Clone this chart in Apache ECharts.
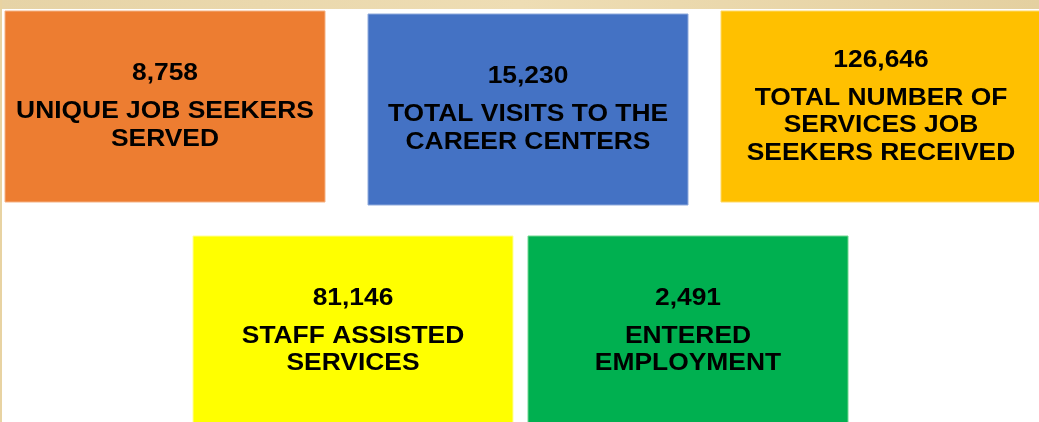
<!DOCTYPE html>
<html>
<head>
<meta charset="utf-8">
<script src="https://cdn.jsdelivr.net/npm/echarts@6/dist/echarts.min.js"></script>
<style>
  html, body { margin: 0; padding: 0; background: #fff; }
  #chart { width: 1039px; height: 422px; }
</style>
</head>
<body>
<div id="chart"></div>
<script>
// data
const values = [8758, 15230, 126646, 81146, 2491];
const labels = [
  ['UNIQUE JOB SEEKERS', 'SERVED'],
  ['TOTAL VISITS TO THE', 'CAREER CENTERS'],
  ['TOTAL NUMBER OF', 'SERVICES JOB', 'SEEKERS RECEIVED'],
  ['STAFF ASSISTED', 'SERVICES'],
  ['ENTERED', 'EMPLOYMENT']
];

// layout / style
const boxes = [
  [5, 11, 320, 191],
  [368, 14, 320, 191],
  [721, 11, 320, 191],
  [193, 236, 320, 190],
  [528, 236, 320, 190]
];
const fills = ['#ED7D31', '#4472C4', '#FFC000', '#FFFF00', '#00B050'];
const edges = ['#F4B183', '#8FAADC', '#FFD966', '#FFFF99', '#70D890'];
const font = '"Liberation Sans", Arial, sans-serif';
const lineH = 27.5;
const stretch = 1.1; // text in the original is a bit wider than Arial

const chart = echarts.init(document.getElementById('chart'));

const elements = [
  // parchment strip along top and left edge
  { type: 'rect', shape: { x: 0, y: 0, width: 1039, height: 9 },
    style: { fill: new echarts.graphic.LinearGradient(0, 0, 1, 0, [
      { offset: 0, color: '#E6D3A6' }, { offset: 0.5, color: '#EEDDB4' }, { offset: 1, color: '#E4D0A0' }
    ]) } },
  { type: 'rect', shape: { x: 0, y: 0, width: 2, height: 422 }, style: { fill: '#E8D3A2' } }
];

values.forEach((v, i) => {
  const [x, y, w, h] = boxes[i];
  const n = labels[i].length;
  const cx = x + w / 2;
  const cy = y + h / 2;
  const numY = cy - 19 - (n - 1) * lineH / 2;
  const labY = numY + 38 + (n - 1) * lineH / 2;
  elements.push({
    type: 'rect',
    shape: { x: x, y: y, width: w, height: h },
    style: { fill: fills[i], stroke: edges[i], lineWidth: 1 }
  });
  elements.push({
    type: 'text', x: cx, y: numY, scaleX: stretch,
    style: {
      text: v.toLocaleString('en-US'), fill: '#000',
      font: 'bold 24px ' + font, align: 'center', verticalAlign: 'middle'
    }
  });
  elements.push({
    type: 'text', x: cx, y: labY, scaleX: stretch,
    style: {
      text: labels[i].join('\n'), fill: '#000', lineHeight: lineH,
      font: 'bold 24px ' + font, align: 'center', verticalAlign: 'middle'
    }
  });
});

chart.setOption({
  animation: false,
  graphic: { elements: elements }
});
</script>
</body>
</html>
